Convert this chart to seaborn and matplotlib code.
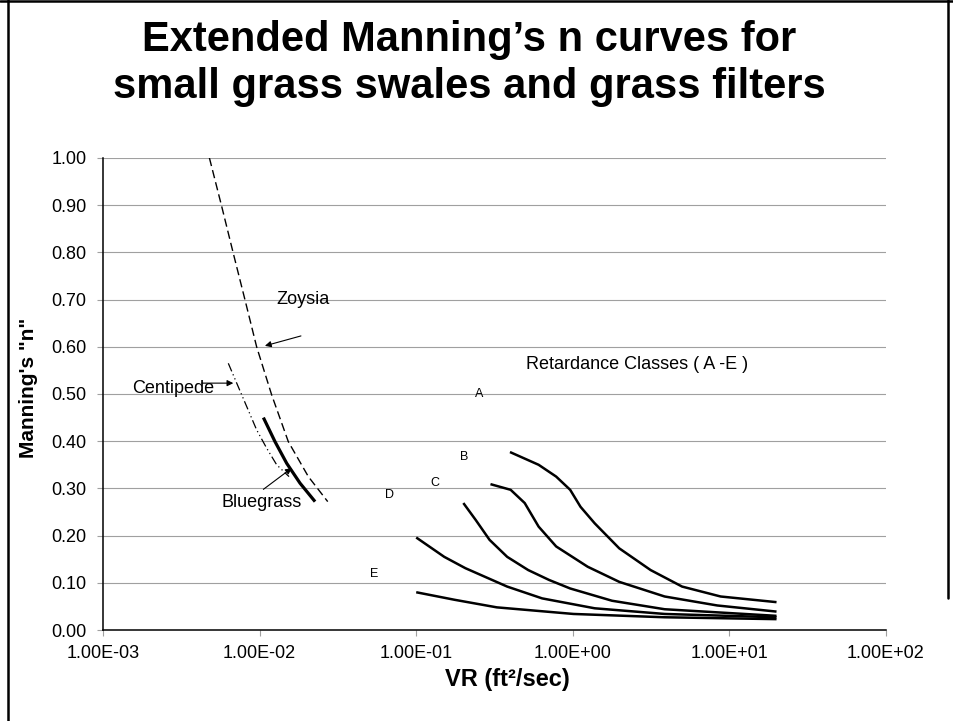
import numpy as np
import pandas as pd
import matplotlib
matplotlib.use("Agg")
import matplotlib.pyplot as plt
import seaborn as sns
from matplotlib.lines import Line2D
from matplotlib.ticker import FixedLocator, FuncFormatter, NullLocator

# Set plotting style
sns.set_style("white")
plt.rcParams['font.family'] = ['Liberation Sans', 'DejaVu Sans']
plt.rcParams['text.color'] = 'black'
plt.rcParams['axes.labelcolor'] = 'black'

# --- data (VR in ft2/sec, Manning's n) ---
zoysia_vr = [0.00478, 0.00573, 0.00679, 0.00807, 0.00957, 0.01194, 0.01525, 0.02047, 0.02722]
zoysia_n = [1.00, 0.897, 0.798, 0.699, 0.600, 0.498, 0.399, 0.325, 0.272]

centipede_vr = [0.00631, 0.00714, 0.00828, 0.00957, 0.0111, 0.01285, 0.01541]
centipede_n = [0.565, 0.523, 0.473, 0.424, 0.385, 0.350, 0.325]

bluegrass_vr = [0.01057, 0.01254, 0.0149, 0.01812, 0.0226]
bluegrass_n = [0.450, 0.399, 0.353, 0.311, 0.272]

class_a_vr = [0.397, 0.605, 0.783, 0.962, 1.12, 1.38, 1.98, 3.14, 4.99, 8.79, 20.0]
class_a_n = [0.377, 0.350, 0.325, 0.297, 0.261, 0.226, 0.173, 0.127, 0.092, 0.071, 0.059]

class_b_vr = [0.298, 0.401, 0.493, 0.605, 0.783, 1.245, 1.98, 3.86, 8.36, 20.0]
class_b_n = [0.309, 0.297, 0.269, 0.219, 0.177, 0.134, 0.102, 0.071, 0.052, 0.039]

class_c_vr = [0.200, 0.240, 0.294, 0.381, 0.519, 0.706, 0.962, 1.78, 3.86, 20.0]
class_c_n = [0.269, 0.233, 0.191, 0.155, 0.127, 0.106, 0.088, 0.062, 0.044, 0.030]

class_d_vr = [0.100, 0.151, 0.206, 0.381, 0.637, 1.38, 3.86, 20.0]
class_d_n = [0.196, 0.155, 0.131, 0.092, 0.067, 0.046, 0.034, 0.027]

class_e_vr = [0.100, 0.176, 0.327, 1.01, 3.86, 20.0]
class_e_n = [0.080, 0.064, 0.048, 0.034, 0.027, 0.023]

class_labels = ['A', 'B', 'C', 'D', 'E']
class_label_vr = [0.252, 0.202, 0.131, 0.0679, 0.054]
class_label_n = [0.500, 0.367, 0.311, 0.285, 0.118]

y_ticks = [0.0, 0.1, 0.2, 0.3, 0.4, 0.5, 0.6, 0.7, 0.8, 0.9, 1.0]
x_ticks = [1e-3, 1e-2, 1e-1, 1e0, 1e1, 1e2]

fig = plt.figure(figsize=(9.54, 7.21), dpi=100)
ax = fig.add_axes([0.108, 0.1262, 0.8207, 0.6547])

grid_color = '#a0a0a0'
for yv in y_ticks[1:]:
    ax.axhline(yv, color=grid_color, lw=0.8, zorder=0)


def draw(vr, n, lw, ls):
    df = pd.DataFrame({'VR': vr, 'n': n})
    sns.lineplot(data=df, x='VR', y='n', ax=ax, color='black', lw=lw,
                 sort=False, estimator=None)
    line = ax.lines[-1]
    line.set_linestyle(ls)
    line.set_solid_capstyle('butt')
    line.set_solid_joinstyle('round')
    line.set_dash_joinstyle('round')


draw(zoysia_vr, zoysia_n, 1.0, (0, (6, 3)))
draw(centipede_vr, centipede_n, 0.9, (0, (7, 2.5, 1, 2.5, 1, 2.5)))
draw(bluegrass_vr, bluegrass_n, 2.3, '-')
for vr, n in [(class_a_vr, class_a_n), (class_b_vr, class_b_n), (class_c_vr, class_c_n),
              (class_d_vr, class_d_n), (class_e_vr, class_e_n)]:
    draw(vr, n, 1.8, '-')

# annotations
arrow = dict(arrowstyle='-|>', color='black', lw=0.8, mutation_scale=9, shrinkA=0, shrinkB=0)
ax.text(0.01905, 0.7006, 'Zoysia', fontsize=13, ha='center', va='center')
ax.annotate('', xy=(0.01081, 0.602), xytext=(0.01836, 0.623), arrowprops=arrow)
ax.text(0.00279, 0.512, 'Centipede', fontsize=13, ha='center', va='center')
ax.annotate('', xy=(0.00679, 0.523), xytext=(0.00427, 0.523), arrowprops=arrow)
ax.text(0.01028, 0.2697, 'Bluegrass', fontsize=13, ha='center', va='center')
ax.annotate('', xy=(0.01603, 0.343), xytext=(0.01057, 0.298), arrowprops=arrow)
ax.text(2.56, 0.563, 'Retardance Classes ( A -E )', fontsize=13, ha='center', va='center')
for lab, xv, yv in zip(class_labels, class_label_vr, class_label_n):
    ax.text(xv, yv, lab, fontsize=9, ha='center', va='center')

# axes
ax.set_xscale('log')
ax.set_xlim(1e-3, 1e2)
ax.set_ylim(0, 1)
ax.xaxis.set_major_locator(FixedLocator(x_ticks))
ax.xaxis.set_minor_locator(NullLocator())
ax.xaxis.set_major_formatter(FuncFormatter(lambda v, p: f"{v:.2E}"))
ax.set_yticks(y_ticks)
ax.yaxis.set_major_formatter(FuncFormatter(lambda v, p: f"{v:.2f}"))
ax.tick_params(axis='both', which='major', direction='out', length=4, width=0.8,
               color=grid_color, labelsize=13, labelcolor='black')
ax.tick_params(axis='x', pad=7, bottom=True)
ax.tick_params(axis='y', pad=8, left=True)

for side in ['top', 'right']:
    ax.spines[side].set_visible(False)
for side in ['left', 'bottom']:
    ax.spines[side].set_color('black')
    ax.spines[side].set_linewidth(1.1)

ax.set_xlabel('VR (ft²/sec)', fontsize=17, fontweight='bold')
ax.xaxis.set_label_coords(0.517, -0.08)
ax.set_ylabel('Manning\'s "n"', fontsize=15, fontweight='bold')
ax.yaxis.set_label_coords(-0.083, 0.512)

# title (two lines as on the slide)
fig.text(0.4916, 0.9293, 'Extended Manning\u2019s n curves for', fontsize=30,
         fontweight='bold', ha='center', va='baseline')
fig.text(0.4916, 0.8637, 'small grass swales and grass filters', fontsize=30,
         fontweight='bold', ha='center', va='baseline')

# slide frame
fig.add_artist(Line2D([0.0084, 0.0084], [0, 1], transform=fig.transFigure, color='black', lw=1.8))
fig.add_artist(Line2D([0, 1], [0.998, 0.998], transform=fig.transFigure, color='black', lw=1.8))
fig.add_artist(Line2D([0.9937, 0.9937], [0.17, 1], transform=fig.transFigure, color='black', lw=1.8))

fig.savefig('out.png', dpi=100)
